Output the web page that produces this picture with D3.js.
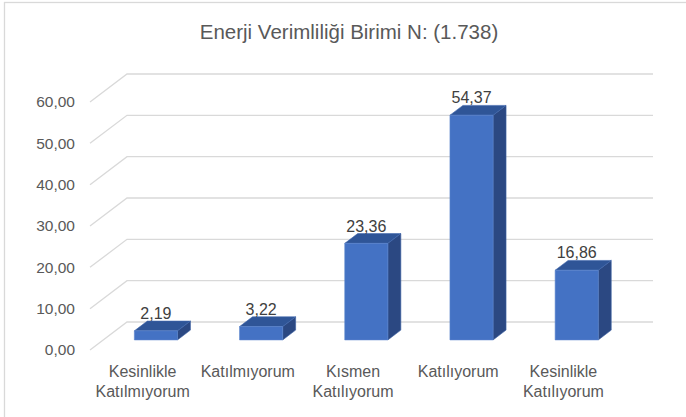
<!DOCTYPE html>
<html>
<head>
<meta charset="utf-8">
<script src="https://cdn.jsdelivr.net/npm/d3@7"></script>
<style>
  body { margin: 0; background: #fff; }
  text { font-family: "Liberation Sans", Arial, sans-serif; }
</style>
</head>
<body>
<svg id="chart"></svg>
<script>
const categories = ["Kesinlikle Katılmıyorum", "Katılmıyorum", "Kısmen Katılıyorum", "Katılıyorum", "Kesinlikle Katılıyorum"];
const values = [2.19, 3.22, 23.36, 54.37, 16.86];
const yTicks = [0, 10, 20, 30, 40, 50, 60];
const title = "Enerji Verimliliği Birimi N: (1.738)";

const svgWidth = 686;
const svgHeight = 417;

// 3d depth: back wall at d=0, front of floor at d=1
const depthX = -37;
const depthY = 28;
const barFront = 0.64;
const barBack = 0.29;

const svg = d3.select("#chart")
  .attr("width", svgWidth)
  .attr("height", svgHeight);

svg.append("rect")
  .attr("x", 4.5).attr("y", 2.5)
  .attr("width", 700).attr("height", 430)
  .attr("fill", "#fff")
  .attr("stroke", "#d9d9d9")
  .attr("stroke-width", 1.3);

svg.append("text")
  .attr("x", 349).attr("y", 39)
  .attr("text-anchor", "middle")
  .attr("fill", "#595959")
  .style("font-size", "20.5px")
  .text(title);

const xScale = d3.scaleBand()
  .domain(categories)
  .range([127, 653])
  .paddingInner(0.59)
  .paddingOuter(0.295);

const yScale = d3.scaleLinear()
  .domain([0, 60])
  .range([322, 74]);

const fmt = v => d3.format(".2f")(v).replace(".", ",");

// gridlines: back wall + left diagonal
const grid = svg.append("g");
yTicks.forEach(t => {
  const y = yScale(t);
  grid.append("path")
    .attr("d", `M${127 + depthX},${y + depthY}L127,${y}L653,${y}`)
    .attr("fill", "none")
    .attr("stroke", "#d9d9d9")
    .attr("stroke-width", 1.3);
});

// y axis labels
const yAxis = d3.axisLeft(yScale)
  .tickValues(yTicks)
  .tickSize(0)
  .tickPadding(0)
  .tickFormat(fmt);

svg.append("g")
  .attr("transform", `translate(75, ${depthY})`)
  .call(yAxis)
  .call(g => g.select(".domain").remove())
  .call(g => g.selectAll("text")
    .attr("fill", "#595959")
    .style("font-size", "15.5px")
    .style("font-family", "Liberation Sans, Arial, sans-serif"));

// bars
const bars = svg.append("g").selectAll("g")
  .data(categories.map((c, i) => ({ c, v: values[i] })))
  .enter()
  .append("g");

const P = (x, y, d) => [x + depthX * d, y + depthY * d];

bars.each(function(d) {
  const g = d3.select(this);
  const x0 = xScale(d.c);
  const x1 = x0 + xScale.bandwidth();
  const yTop = yScale(d.v);
  const yBot = yScale(0);
  const fl = P(x0, yTop, barFront), fr = P(x1, yTop, barFront);
  const flb = P(x0, yBot, barFront), frb = P(x1, yBot, barFront);
  const bl = P(x0, yTop, barBack), br = P(x1, yTop, barBack);
  const brb = P(x1, yBot, barBack);

  // side
  g.append("path")
    .attr("d", `M${fr}L${br}L${brb}L${frb}Z`)
    .attr("fill", "#2b4882")
    .attr("stroke", "#3a5fa3").attr("stroke-width", 0.6);
  // top
  g.append("path")
    .attr("d", `M${fl}L${bl}L${br}L${fr}Z`)
    .attr("fill", "#2f5597")
    .attr("stroke", "#3f67ad").attr("stroke-width", 0.6);
  // front
  g.append("path")
    .attr("d", `M${fl}L${fr}L${frb}L${flb}Z`)
    .attr("fill", "#4472c4")
    .attr("stroke", "#5b84cc").attr("stroke-width", 0.6);

  g.append("text")
    .attr("x", (fl[0] + fr[0]) / 2)
    .attr("y", bl[1] - 2)
    .attr("text-anchor", "middle")
    .attr("fill", "#404040")
    .style("font-size", "16px")
    .text(fmt(d.v));
});

// category labels at the front edge of the floor
const catLabels = svg.append("g").selectAll("text")
  .data(categories)
  .enter()
  .append("text")
  .attr("text-anchor", "middle")
  .attr("fill", "#595959")
  .style("font-size", "16px")
  .attr("transform", d => `translate(${xScale(d) + xScale.bandwidth() / 2 + depthX}, 377)`);

catLabels.each(function(d) {
  const words = d.split(" ");
  d3.select(this).selectAll("tspan")
    .data(words)
    .enter()
    .append("tspan")
    .attr("x", 0)
    .attr("dy", (w, i) => i === 0 ? 0 : 20)
    .text(w => w);
});
</script>
</body>
</html>
